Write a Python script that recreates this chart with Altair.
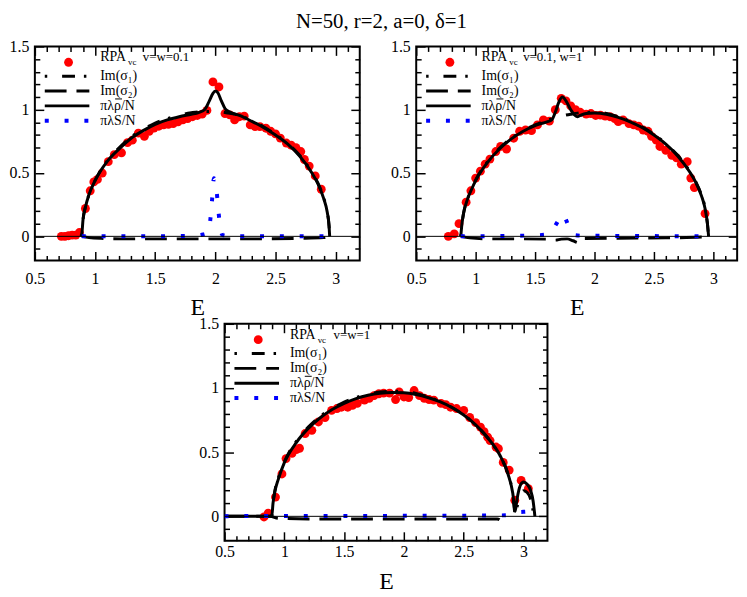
import altair as alt
import pandas as pd

TITLE = "N=50, r=2, a=0, δ=1"
X_DOMAIN = [0.5, 3.2]
Y_DOMAIN = [-0.19, 1.5]
X_LABELS = [0.5, 1.0, 1.5, 2.0, 2.5, 3.0]
Y_LABELS = [0.0, 0.5, 1.0, 1.5]
X_MINOR = [0.6, 0.7, 0.8, 0.9, 1.1, 1.2, 1.3, 1.4, 1.6, 1.7, 1.8, 1.9,
           2.1, 2.2, 2.3, 2.4, 2.6, 2.7, 2.8, 2.9, 3.1]
Y_MINOR = [-0.1, 0.1, 0.2, 0.3, 0.4, 0.6, 0.7, 0.8, 0.9, 1.1, 1.2, 1.3, 1.4]
ZERO = [0.0]

SERIES_NAMES = ["Im(σ₁)", "Im(σ₂)", "πλρ/N", "πλS/N"]
RPA_NAME = "RPA"
RPA_SUB = "vc"
PARAMS = ["v=w=0.1", "v=0.1, w=1", "v=w=1"]

# ---------------- panel A : v=w=0.1 ----------------
A_RPA = [(0.72, 0.0), (0.75, 0.0), (0.78, 0.005), (0.81, 0.01), (0.84, 0.01), (0.87, 0.03),
         (0.92, 0.22), (0.96, 0.36), (0.99, 0.43), (1.02, 0.45), (1.06, 0.50), (1.11, 0.59),
         (1.16, 0.645), (1.22, 0.66), (1.27, 0.74), (1.31, 0.76), (1.36, 0.815), (1.41, 0.79),
         (1.45, 0.83), (1.49, 0.855), (1.53, 0.87), (1.57, 0.88), (1.61, 0.885), (1.65, 0.89),
         (1.69, 0.905), (1.73, 0.92), (1.77, 0.93), (1.81, 0.945), (1.85, 0.955), (1.89, 0.965),
         (1.93, 0.995), (1.98, 1.22), (2.03, 1.18), (2.08, 0.97), (2.12, 0.96), (2.16, 0.92),
         (2.2, 0.945), (2.24, 0.95), (2.29, 0.88), (2.33, 0.867), (2.37, 0.867), (2.42, 0.854),
         (2.46, 0.83), (2.5, 0.81), (2.54, 0.776), (2.59, 0.737), (2.63, 0.72), (2.67, 0.70),
         (2.71, 0.67), (2.74, 0.607), (2.78, 0.555), (2.83, 0.477), (2.88, 0.372)]
A_S1 = [(0.89, 0.0), (0.9, 0.13), (0.92, 0.23), (0.95, 0.33), (1.0, 0.44), (1.1, 0.595),
        (1.2, 0.70), (1.3, 0.785), (1.4, 0.845), (1.5, 0.895), (1.6, 0.93), (1.7, 0.958),
        (1.8, 0.976), (1.9, 0.986), (2.0, 0.986), (2.1, 0.975), (2.2, 0.955), (2.3, 0.915),
        (2.4, 0.865), (2.5, 0.805), (2.6, 0.735), (2.7, 0.64), (2.8, 0.51), (2.85, 0.425),
        (2.9, 0.305), (2.93, 0.195), (2.945, 0.08), (2.95, 0.0)]
A_S2 = [(0.89, 0.0), (0.95, -0.01), (1.05, -0.016), (1.3, -0.02), (1.6, -0.02), (1.9, -0.02),
        (2.1, -0.02), (2.4, -0.02), (2.7, -0.016), (2.9, -0.01), (2.95, 0.0)]
A_RHO = [(0.88, 0.0), (0.89, 0.02), (0.9, 0.13), (0.92, 0.23), (0.95, 0.33), (1.0, 0.44),
         (1.1, 0.59), (1.2, 0.69), (1.3, 0.775), (1.4, 0.835), (1.5, 0.885), (1.6, 0.92),
         (1.7, 0.945), (1.8, 0.965), (1.86, 0.978), (1.91, 1.0), (1.95, 1.07), (1.98, 1.13),
         (2.0, 1.148), (2.02, 1.135), (2.05, 1.07), (2.08, 1.01), (2.12, 0.982), (2.2, 0.955),
         (2.3, 0.91), (2.4, 0.86), (2.5, 0.80), (2.6, 0.73), (2.7, 0.635), (2.8, 0.505),
         (2.85, 0.42), (2.9, 0.30), (2.93, 0.19), (2.945, 0.08), (2.95, 0.0)]
A_S = [(0.89, 0.0), (1.5, 0.0), (1.84, 0.005), (1.9, 0.015), (1.94, 0.03), (1.958, 0.13),
       (1.972, 0.28), (1.988, 0.46), (1.998, 0.44), (2.008, 0.38), (2.022, 0.24), (2.04, 0.07),
       (2.06, 0.01), (2.15, 0.0), (2.95, 0.0)]

# ---------------- panel B : v=0.1, w=1 ----------------
B_RPA = [(0.77, 0.0), (0.82, 0.02), (0.86, 0.10), (0.92, 0.27), (0.96, 0.36), (1.0, 0.46),
         (1.04, 0.515), (1.08, 0.57), (1.12, 0.61), (1.17, 0.67), (1.21, 0.71), (1.26, 0.69),
         (1.32, 0.775), (1.37, 0.83), (1.42, 0.84), (1.47, 0.835), (1.52, 0.88), (1.57, 0.92),
         (1.62, 0.91), (1.67, 1.0), (1.72, 1.09), (1.76, 1.07), (1.8, 1.03), (1.84, 1.0),
         (1.88, 0.98), (1.93, 0.965), (1.97, 0.97), (2.01, 0.955), (2.05, 0.958), (2.09, 0.95),
         (2.13, 0.945), (2.17, 0.93), (2.2, 0.906), (2.24, 0.92), (2.29, 0.89), (2.33, 0.88),
         (2.37, 0.87), (2.41, 0.84), (2.45, 0.83), (2.48, 0.79), (2.52, 0.76), (2.55, 0.71),
         (2.6, 0.68), (2.65, 0.64), (2.69, 0.62), (2.73, 0.57), (2.78, 0.59), (2.81, 0.46),
         (2.84, 0.385), (2.93, 0.18)]
B_S1 = [(0.875, 0.0), (0.885, 0.1), (0.9, 0.19), (0.93, 0.29), (0.97, 0.385), (1.0, 0.445),
        (1.1, 0.59), (1.2, 0.695), (1.3, 0.775), (1.4, 0.835), (1.5, 0.88), (1.6, 0.915),
        (1.7, 0.945), (1.8, 0.965), (1.9, 0.978), (2.0, 0.98), (2.1, 0.97), (2.2, 0.945),
        (2.3, 0.91), (2.4, 0.865), (2.5, 0.805), (2.6, 0.732), (2.7, 0.64), (2.8, 0.515),
        (2.85, 0.435), (2.9, 0.325), (2.93, 0.225), (2.95, 0.1), (2.96, 0.0)]
B_S2 = [(0.875, 0.0), (0.95, -0.012), (1.1, -0.02), (1.4, -0.02), (1.6, -0.022),
        (1.67, -0.03), (1.72, -0.022), (1.77, -0.02), (1.82, -0.035), (1.865, -0.05),
        (1.9, -0.018), (2.2, -0.015), (2.6, -0.012), (2.9, -0.006), (2.96, 0.0)]
B_RHO = [(0.875, 0.0), (0.885, 0.1), (0.9, 0.19), (0.93, 0.29), (0.97, 0.38), (1.0, 0.44),
         (1.1, 0.585), (1.2, 0.69), (1.3, 0.77), (1.4, 0.83), (1.5, 0.875), (1.6, 0.905),
         (1.64, 0.92), (1.67, 0.98), (1.7, 1.06), (1.73, 1.10), (1.76, 1.07), (1.8, 1.0),
         (1.83, 0.96), (1.855, 0.945), (1.88, 0.955), (1.93, 0.97), (2.0, 0.975), (2.1, 0.965),
         (2.2, 0.94), (2.3, 0.905), (2.4, 0.86), (2.5, 0.80), (2.6, 0.728), (2.7, 0.635),
         (2.8, 0.51), (2.85, 0.43), (2.9, 0.32), (2.93, 0.22), (2.95, 0.1), (2.96, 0.0)]
B_S = [(0.875, 0.0), (1.2, 0.003), (1.5, 0.008), (1.6, 0.015), (1.64, 0.04), (1.68, 0.1),
       (1.735, 0.175), (1.765, 0.12), (1.8, 0.03), (1.83, 0.01), (1.9, 0.005), (2.3, 0.003),
       (2.95, 0.0)]

# ---------------- panel C : v=w=1 ----------------
C_RPA = [(0.83, -0.005), (0.865, 0.025), (0.926, 0.15), (0.98, 0.33), (1.014, 0.45),
         (1.064, 0.49), (1.1, 0.52), (1.127, 0.53), (1.174, 0.645), (1.23, 0.67), (1.285, 0.735),
         (1.34, 0.77), (1.395, 0.826), (1.44, 0.84), (1.477, 0.85), (1.53, 0.85), (1.57, 0.865),
         (1.61, 0.88), (1.67, 0.905), (1.71, 0.92), (1.75, 0.94), (1.79, 0.955), (1.83, 0.96),
         (1.88, 0.96), (1.93, 0.91), (1.96, 0.97), (2.0, 0.93), (2.04, 0.925), (2.085, 0.98),
         (2.13, 0.94), (2.17, 0.92), (2.21, 0.91), (2.25, 0.905), (2.31, 0.88), (2.35, 0.87),
         (2.39, 0.85), (2.44, 0.84), (2.5, 0.826), (2.55, 0.77), (2.6, 0.73), (2.64, 0.695),
         (2.67, 0.66), (2.7, 0.617), (2.72, 0.59), (2.77, 0.54), (2.79, 0.527), (2.83, 0.42),
         (2.88, 0.36), (2.927, 0.125), (2.98, 0.28), (3.04, 0.215)]
C_S1 = [(0.895, 0.0), (0.905, 0.1), (0.92, 0.195), (0.95, 0.3), (1.0, 0.425), (1.1, 0.585),
        (1.2, 0.695), (1.3, 0.78), (1.4, 0.84), (1.5, 0.89), (1.6, 0.925), (1.7, 0.952),
        (1.8, 0.968), (1.9, 0.975), (2.0, 0.972), (2.1, 0.958), (2.2, 0.932), (2.3, 0.895),
        (2.4, 0.85), (2.5, 0.79), (2.6, 0.712), (2.7, 0.612), (2.8, 0.475), (2.87, 0.33),
        (2.91, 0.18), (2.93, 0.02), (2.945, 0.07), (2.96, 0.12), (2.98, 0.175), (3.0, 0.2),
        (3.03, 0.185), (3.055, 0.145), (3.075, 0.07), (3.085, 0.0)]
C_S2 = [(0.5, 0.0), (0.88, 0.0), (0.95, -0.015), (1.2, -0.02), (1.6, -0.02), (2.0, -0.02),
        (2.4, -0.02), (2.7, -0.02), (2.78, -0.02), (2.81, -0.035), (2.83, -0.065)]
C_RHO = [(0.5, 0.0), (0.895, 0.0), (0.905, 0.1), (0.92, 0.19), (0.95, 0.29), (1.0, 0.418),
         (1.1, 0.575), (1.2, 0.685), (1.3, 0.768), (1.4, 0.832), (1.5, 0.88), (1.6, 0.917),
         (1.7, 0.943), (1.8, 0.959), (1.9, 0.965), (2.0, 0.962), (2.1, 0.949), (2.2, 0.926),
         (2.3, 0.893), (2.4, 0.848), (2.5, 0.789), (2.6, 0.712), (2.7, 0.612), (2.8, 0.48),
         (2.87, 0.33), (2.91, 0.18), (2.93, 0.04), (2.94, 0.1), (2.955, 0.18), (2.975, 0.245),
         (3.0, 0.268), (3.03, 0.25), (3.06, 0.2), (3.08, 0.12), (3.095, 0.0)]
C_S = [(0.5, 0.0), (0.9, 0.003), (1.5, 0.003), (2.0, 0.004), (2.5, 0.005), (2.85, 0.008),
       (2.93, 0.03), (3.0, 0.035), (3.08, 0.04)]

# ---------------- styles ----------------
FONT = "Liberation Serif"
RED = "#ff0000"
BLUE = "#0000ff"
BLACK = "#000000"
DASH_S1 = [2.5, 15, 13, 9]
DASH_S2 = [22, 10]
DASH_S = [4, 16]
LINE_W = 3
LEG_LINE_X = (10, 55)
LEG_SYM_X = 34
LEG_TEXT_X = 66
LEG_ROWS = [16, 30, 45, 60, 75]
MAJOR_LEN = 9
MINOR_LEN = 5


def df_pairs(pairs):
    return pd.DataFrame(pairs, columns=["E", "v"])


def x_axis(orient, vals, L, labels, lab_pad):
    kw = dict(orient=orient, values=vals, tickSize=L, offset=-L, tickWidth=1.5,
              tickColor=BLACK, domain=False, grid=False, labelFlush=False)
    if labels:
        kw.update(format="~g", title="E", labelPadding=lab_pad, titlePadding=10)
    else:
        kw.update(labels=False, title=None)
    return alt.Axis(**kw)


def y_axis(orient, vals, L, labels):
    kw = dict(orient=orient, values=vals, tickSize=L, offset=-L, tickWidth=1.5,
              tickColor=BLACK, domain=False, grid=False, labelFlush=False, title=None)
    if labels:
        kw.update(format="~g", labelPadding=6)
    else:
        kw.update(labels=False)
    return alt.Axis(**kw)


def panel(rpa, s1, s2, rho, s, param, param_x, w, h, lab_pad):
    xs = alt.Scale(domain=X_DOMAIN, nice=False, zero=False)
    ys = alt.Scale(domain=Y_DOMAIN, nice=False, zero=False)
    # inward ticks on all four sides: bottom/left major (with labels), bottom/left minor,
    # top/right major, top/right minor
    axes = [
        (x_axis("bottom", X_LABELS, MAJOR_LEN, True, lab_pad), y_axis("left", Y_LABELS, MAJOR_LEN, True)),
        (x_axis("bottom", X_MINOR, MINOR_LEN, False, 0), y_axis("left", Y_MINOR, MINOR_LEN, False)),
        (x_axis("top", X_LABELS, MAJOR_LEN, False, 0), y_axis("right", Y_LABELS, MAJOR_LEN, False)),
        (x_axis("top", X_MINOR, MINOR_LEN, False, 0), y_axis("right", Y_MINOR, MINOR_LEN, False)),
    ]

    def XY(i=None):
        if i is None:
            return (alt.X("E:Q", scale=xs, axis=None), alt.Y("v:Q", scale=ys, axis=None))
        return (alt.X("E:Q", scale=xs, axis=axes[i][0]), alt.Y("v:Q", scale=ys, axis=axes[i][1]))

    layers = []
    x, y = XY(0)
    layers.append(alt.Chart(df_pairs(rpa)).mark_circle(size=80, color=RED, opacity=1)
                  .encode(x=x, y=y))
    x, y = XY(1)
    layers.append(alt.Chart(df_pairs(s1)).mark_line(color=BLACK, strokeWidth=LINE_W,
                  strokeDash=DASH_S1, strokeCap="butt", interpolate="monotone", clip=True)
                  .encode(x=x, y=y))
    x, y = XY(2)
    layers.append(alt.Chart(df_pairs(s2)).mark_line(color=BLACK, strokeWidth=LINE_W,
                  strokeDash=DASH_S2, strokeCap="butt", interpolate="monotone", clip=True)
                  .encode(x=x, y=y))
    x, y = XY(3)
    layers.append(alt.Chart(df_pairs(rho)).mark_line(color=BLACK, strokeWidth=LINE_W,
                  interpolate="monotone", clip=True)
                  .encode(x=x, y=y))
    x, y = XY()
    layers.append(alt.Chart(df_pairs(s)).mark_line(color=BLUE, strokeWidth=4,
                  strokeDash=DASH_S, strokeCap="butt", interpolate="monotone", clip=True)
                  .encode(x=x, y=y))
    layers.append(alt.Chart(pd.DataFrame({"v": ZERO})).mark_rule(color=BLACK, strokeWidth=1)
                  .encode(y=y))

    # legend
    one = alt.Chart(pd.DataFrame({"k": [0]}))
    layers.append(one.mark_circle(size=80, color=RED, opacity=1)
                  .encode(x=alt.value(LEG_SYM_X), y=alt.value(LEG_ROWS[0])))
    styles = [dict(color=BLACK, strokeWidth=LINE_W, strokeDash=DASH_S1, strokeCap="butt"),
              dict(color=BLACK, strokeWidth=LINE_W, strokeDash=DASH_S2, strokeCap="butt"),
              dict(color=BLACK, strokeWidth=LINE_W),
              dict(color=BLUE, strokeWidth=4, strokeDash=DASH_S, strokeCap="butt")]
    for i, st in enumerate(styles):
        row = LEG_ROWS[i + 1]
        layers.append(one.mark_rule(**st).encode(
            x=alt.value(LEG_LINE_X[0]), x2=alt.value(LEG_LINE_X[1]), y=alt.value(row)))
        layers.append(one.mark_text(align="left", baseline="middle", font=FONT, fontSize=14,
                      color=BLACK).encode(x=alt.value(LEG_TEXT_X), y=alt.value(row),
                                          text=alt.value(SERIES_NAMES[i])))
    # overbar of rho
    layers.append(one.mark_rule(color=BLACK, strokeWidth=1).encode(
        x=alt.value(LEG_TEXT_X + 15), x2=alt.value(LEG_TEXT_X + 22),
        y=alt.value(LEG_ROWS[3] - 7)))
    layers.append(one.mark_text(align="left", baseline="middle", font=FONT, fontSize=14,
                  color=BLACK).encode(x=alt.value(LEG_TEXT_X), y=alt.value(LEG_ROWS[0] - 5),
                                      text=alt.value(RPA_NAME)))
    layers.append(one.mark_text(align="left", baseline="middle", font=FONT, fontSize=9,
                  color=BLACK).encode(x=alt.value(LEG_TEXT_X + 28), y=alt.value(LEG_ROWS[0]),
                                      text=alt.value(RPA_SUB)))
    layers.append(one.mark_text(align="left", baseline="middle", font=FONT, fontSize=13,
                  color=BLACK).encode(x=alt.value(param_x), y=alt.value(LEG_ROWS[0] - 5),
                                      text=alt.value(param)))

    return (alt.layer(*layers).properties(width=w, height=h)
            .resolve_axis(x="independent", y="independent"))


pA = panel(A_RPA, A_S1, A_S2, A_RHO, A_S, PARAMS[0], 109, 328, 216, 10)
pB = panel(B_RPA, B_S1, B_S2, B_RHO, B_S, PARAMS[1], 108, 324, 216, 10)
pC = panel(C_RPA, C_S1, C_S2, C_RHO, C_S, PARAMS[2], 110, 326, 219, 3)

top = alt.hconcat(pA, pB, spacing=28)
chart = alt.vconcat(top, pC, spacing=-6, center=True).properties(
    title=alt.TitleParams(TITLE, font=FONT, fontSize=21, fontWeight="normal",
                          color=BLACK, anchor="middle", offset=6, dx=8),
    padding=0,
).configure_view(stroke=BLACK, strokeWidth=2).configure_axis(
    labelFont=FONT, labelFontSize=16, labelColor=BLACK,
    titleFont=FONT, titleFontSize=24, titleFontWeight="normal", titleColor=BLACK,
)

chart.save("out.html", embed_options={"renderer": "svg", "actions": False})
